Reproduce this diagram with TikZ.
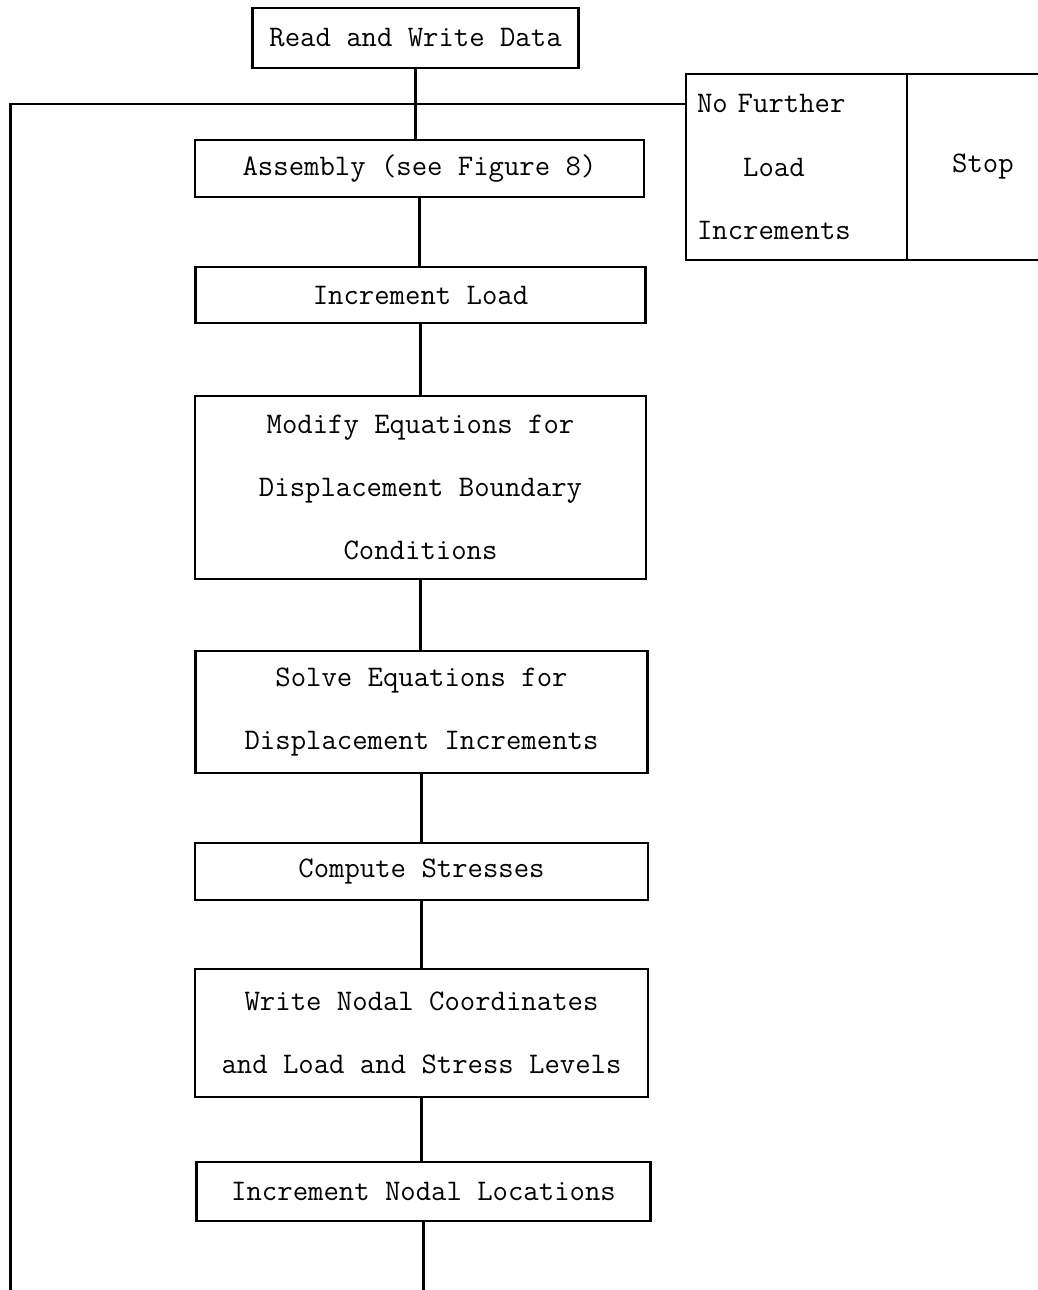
\documentclass[tikz,border=0pt]{standalone}
\usetikzlibrary{positioning}

\begin{document}
\begin{tikzpicture}[x=0.02cm, y=-0.02cm,
  box/.style={draw, line width=1.2pt, inner sep=0pt, outer sep=0pt, align=center,
    font=\ttfamily\fontsize{17}{36}\selectfont},
  link/.style={line width=1.2pt}]

\useasboundingbox (0,0) rectangle (1037,1290);

%%% main chain
\node[box, minimum width=6.52cm, minimum height=1.2cm] (read) at (415.5,38) {Read and Write Data};
\node[box, minimum width=8.98cm, minimum height=1.14cm] (assembly) at (419.5,168.5) {Assembly (see Figure 8)};
\node[box, minimum width=9.0cm, minimum height=1.12cm] (incload) at (420.5,295) {Increment Load};
\node[box, minimum width=9.02cm, minimum height=3.66cm] (modify) at (420.5,487.5)
  {Modify Equations for\\Displacement Boundary\\Conditions};
\node[box, minimum width=9.04cm, minimum height=2.44cm] (solve) at (421.5,712)
  {Solve Equations for\\Displacement Increments};
\node[box, minimum width=9.06cm, minimum height=1.14cm] (stress) at (421.5,871.5) {Compute Stresses};
\node[box, minimum width=9.06cm, minimum height=2.56cm] (writeout) at (421.5,1033)
  {Write Nodal Coordinates\\and Load and Stress Levels};
\node[box, minimum width=9.08cm, minimum height=1.18cm] (nodal) at (423.5,1191.5) {Increment Nodal Locations};

%%% exit test
\node[box, text width=3.98cm, align=left, inner xsep=0.22cm, minimum height=3.72cm] (nofurther) at (796.5,167)
  {No Further\\\phantom{xxx}Load\\Increments};
\node[box, minimum width=3.04cm, minimum height=3.72cm, anchor=west] (stop) at (nofurther.east) {Stop};

% loop back from the next page
\coordinate (looptop) at (10.5,104);
\coordinate (loopbot) at (10.5,1290);

\draw[link] (read.south) -- (read.south |- assembly.north);
\draw[link] (assembly.south) -- (assembly.south |- incload.north);
\draw[link] (incload.south) -- (incload.south |- modify.north);
\draw[link] (modify.south) -- (modify.south |- solve.north);
\draw[link] (solve.south) -- (solve.south |- stress.north);
\draw[link] (stress.south) -- (stress.south |- writeout.north);
\draw[link] (writeout.south) -- (writeout.south |- nodal.north);
\draw[link] (nodal.south) -- (nodal.south |- loopbot);
\draw[link] (loopbot) -- (looptop) -- (looptop -| nofurther.west);

\end{tikzpicture}
\end{document}
